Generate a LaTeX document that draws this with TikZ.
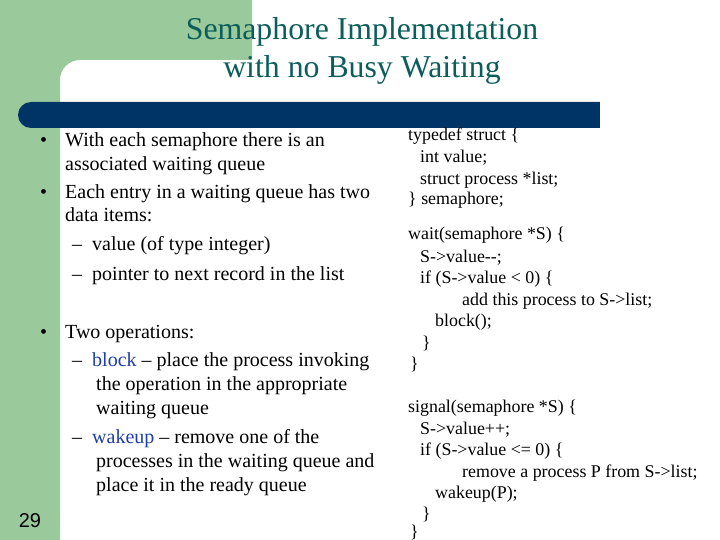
\documentclass[tikz,border=0pt]{standalone}
\usepackage{fontspec}
\setmainfont{Liberation Serif}
\newfontfamily\sfn{Liberation Sans}
\definecolor{bggreen}{HTML}{9ACA9C}
\definecolor{navy}{HTML}{003366}
\definecolor{teal}{HTML}{0B5E5A}
\definecolor{kw}{HTML}{1F3FA8}
\begin{document}
\begin{tikzpicture}[x=1pt,y=-1pt,
  t/.style={anchor=base west,inner sep=0,font=\fontsize{20}{22}\selectfont},
  c/.style={anchor=base west,inner sep=0,font=\fontsize{17.9}{20}\selectfont},
  ttl/.style={anchor=base,inner sep=0,text=teal,font=\fontsize{31.8}{34}\selectfont}]
\useasboundingbox (0,0) rectangle (720,540);
\fill[white] (0,0) rectangle (720,540);
\fill[bggreen] (0,0) -- (252,0) -- (252,60) [rounded corners=20] -- (60,60) [sharp corners] -- (60,540) -- (0,540) -- cycle;
\fill[navy,rounded corners=13] (18,102) rectangle (620,128);
\fill[navy] (590,102) rectangle (600,128);
\fill[white] (600,100) rectangle (630,130);
\node[ttl] (t1) at (362,40) {Semaphore Implementation};
\node[ttl] (t2) at (362,78) {with no Busy Waiting};
\node[anchor=base,inner sep=0,font=\sfn\fontsize{20}{22}\selectfont] (num) at (30,527) {29};
% left bullets
\node[t] (b1) at (40,147) {•};
\node[t] (l1) at (65,147) {With each semaphore there is an};
\node[t] (l2) at (65,171) {associated waiting queue};
\node[t] (b2) at (40,199) {•};
\node[t] (l3) at (65,199) {Each entry in a waiting queue has two};
\node[t] (l4) at (65,222) {data items:};
\node[t] (l5) at (72,251) {–\hspace{10pt}value (of type integer)};
\node[t] (l6) at (72,280) {–\hspace{10pt}pointer to next record in the list};
\node[t] (b3) at (40,338) {•};
\node[t] (l7) at (65,338) {Two operations:};
\node[t] (l8) at (72,366) {–\hspace{10pt}\textcolor{kw}{block} – place the process invoking};
\node[t] (l9) at (96,390) {the operation in the appropriate};
\node[t] (l10) at (96,414) {waiting queue};
\node[t] (l11) at (72,443) {–\hspace{10pt}\textcolor{kw}{wakeup} – remove one of the};
\node[t] (l12) at (96,467) {processes in the waiting queue and};
\node[t] (l13) at (96,491) {place it in the ready queue};
% right code
\node[c] (r1) at (408,141) {typedef struct \{};
\node[c] (r2) at (420,163) {int value;};
\node[c] (r3) at (420,185) {struct process *list;};
\node[c] (r4) at (408,205) {\} semaphore;};
\node[c] (r5) at (408,240) {wait(semaphore *S) \{};
\node[c] (r6) at (420,262) {S->value-{}-;};
\node[c] (r7) at (420,283) {if (S->value < 0) \{};
\node[c] (r8) at (462,305) {add this process to S->list;};
\node[c] (r9) at (435,326) {block();};
\node[c] (r10) at (422,348) {\}};
\node[c] (r11) at (410,369) {\}};
\node[c] (r12) at (408,412) {signal(semaphore *S) \{};
\node[c] (r13) at (420,434) {S->value++;};
\node[c] (r14) at (420,455) {if (S->value <= 0) \{};
\node[c] (r15) at (462,477) {remove a process P from S->list;};
\node[c] (r16) at (435,498) {wakeup(P);};
\node[c] (r17) at (422,519) {\}};
\node[c] (r18) at (410,537) {\}};
\end{tikzpicture}
\end{document}
